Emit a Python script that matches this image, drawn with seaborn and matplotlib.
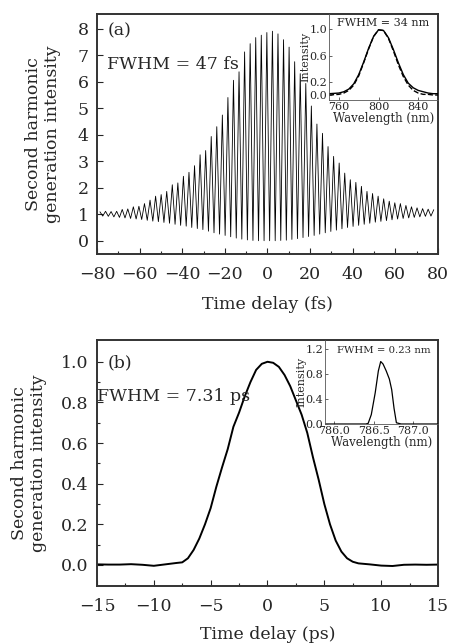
import numpy as np
import pandas as pd
import matplotlib
matplotlib.use("Agg")
import matplotlib.pyplot as plt
import seaborn as sns

# ---------------- data ----------------
# (a) interferometric autocorrelation: fringe maxima and minima, left -> right
FRINGE_START = -78.6   # fs, first fringe maximum
FRINGE_PERIOD = 2.61   # fs
peak_values = [1.09, 1.11, 1.10, 1.11, 1.18, 1.20, 1.28, 1.30, 1.40, 1.53,
               1.68, 1.74, 1.86, 2.11, 2.18, 2.43, 2.58, 2.83, 3.24, 3.40,
               3.93, 4.30, 4.74, 5.40, 6.05, 6.37, 7.12, 7.43, 7.66, 7.75,
               7.85,
               7.90, 7.80, 7.58, 7.30, 6.75, 6.30, 5.93, 5.08, 4.40, 4.05,
               3.55, 3.18, 2.93, 2.55, 2.30, 2.20, 2.05, 1.86, 1.78, 1.68,
               1.58, 1.49, 1.43, 1.40, 1.33, 1.28, 1.24, 1.21, 1.19, 1.17]
trough_values = [0.93, 0.92, 0.90, 0.88, 0.86, 0.84, 0.82, 0.80, 0.77, 0.74,
                 0.72, 0.69, 0.66, 0.62, 0.58, 0.55, 0.50, 0.46, 0.42, 0.36,
                 0.30, 0.25, 0.20, 0.15, 0.10, 0.06, 0.03, 0.01, 0.00, 0.00,
                 0.00, 0.00, 0.01, 0.02, 0.05, 0.08, 0.12, 0.16, 0.20, 0.25,
                 0.30, 0.35, 0.40, 0.45, 0.50, 0.54, 0.58, 0.62, 0.66, 0.70,
                 0.73, 0.76, 0.79, 0.82, 0.84, 0.86, 0.88, 0.90, 0.92, 0.93]

# (a) inset: spectrum (solid = measured, dashed = fit)
wl_a = [750, 760, 765, 770, 775, 780, 785, 790, 795, 800, 805, 810, 815,
        820, 825, 830, 835, 840, 845, 850, 855, 860]
spec_a = [0.02, 0.03, 0.05, 0.09, 0.17, 0.31, 0.50, 0.71, 0.89, 0.99, 0.98,
          0.87, 0.69, 0.49, 0.31, 0.18, 0.11, 0.07, 0.05, 0.03, 0.02, 0.02]
spec_a_fit = [0.00, 0.01, 0.03, 0.07, 0.15, 0.29, 0.49, 0.70, 0.89, 0.99,
              0.98, 0.86, 0.67, 0.46, 0.28, 0.15, 0.07, 0.03, 0.01, 0.01,
              0.00, 0.00]

# (b) intensity autocorrelation
delay_b = [-15, -14, -13, -12, -11, -10, -9, -8, -7.5, -7, -6.5, -6, -5.5,
           -5, -4.5, -4, -3.5, -3, -2.5, -2, -1.5, -1, -0.5, 0, 0.5, 1, 1.5,
           2, 2.5, 3, 3.5, 4, 4.5, 5, 5.5, 6, 6.5, 7, 7.5, 8, 9, 10, 11, 12,
           13, 14, 15]
sig_b = [0.003, 0.002, 0.002, 0.004, 0.001, -0.004, 0.003, 0.010, 0.013,
         0.033, 0.074, 0.13, 0.20, 0.28, 0.385, 0.48, 0.57, 0.68, 0.75, 0.83,
         0.90, 0.96, 0.99, 1.00, 0.995, 0.975, 0.935, 0.88, 0.81, 0.74, 0.65,
         0.53, 0.42, 0.30, 0.20, 0.12, 0.066, 0.033, 0.016, 0.008, 0.003,
         -0.003, -0.005, 0.001, 0.002, 0.001, 0.002]

# (b) inset: narrow spectrum
wl_b = [785.88, 786.0, 786.2, 786.4, 786.43, 786.47, 786.52, 786.56, 786.59,
        786.62, 786.66, 786.70, 786.73, 786.76, 786.79, 786.85, 787.0, 787.2,
        787.32]
spec_b = [0.0, 0.0, 0.0, 0.0, 0.01, 0.15, 0.50, 0.85, 1.00, 0.96, 0.85,
          0.72, 0.55, 0.25, 0.02, 0.0, 0.0, 0.0, 0.0]

# build the fringe trace from the maxima / minima
t_a, y_a = [], []
for k, p in enumerate(peak_values):
    t = FRINGE_START + k * FRINGE_PERIOD
    t_a.append(t)
    y_a.append(p)
    if k < len(trough_values):
        t_a.append(t + FRINGE_PERIOD / 2)
        y_a.append(trough_values[k])
df_a = pd.DataFrame({"delay": t_a, "intensity": y_a})
df_a_in = pd.DataFrame({"wl": wl_a, "meas": spec_a, "fit": spec_a_fit})
df_b = pd.DataFrame({"delay": delay_b, "intensity": sig_b})
df_b_in = pd.DataFrame({"wl": wl_b, "intensity": spec_b})

# ---------------- style ----------------
sns.set_style("ticks")
plt.rcParams["font.family"] = ["DejaVu Serif"]
plt.rcParams["axes.linewidth"] = 1.4
plt.rcParams["xtick.direction"] = "in"
plt.rcParams["ytick.direction"] = "in"

fig = plt.figure(figsize=(4.49, 6.44), dpi=100)


def style_main(ax):
    ax.tick_params(which="major", length=4, width=0.8, labelsize=12.5)
    ax.tick_params(axis="x", which="major", pad=9)
    ax.tick_params(axis="y", which="major", pad=6)
    ax.tick_params(which="minor", length=2, width=0.8)
    ax.tick_params(top=False, right=False)
    for s in ax.spines.values():
        s.set_color("#333333")


def style_inset(ax):
    ax.set_facecolor("none")
    for s in ("top", "right"):
        ax.spines[s].set_visible(False)
    for s in ("left", "bottom"):
        ax.spines[s].set_linewidth(0.6)
        ax.spines[s].set_color("#555555")
    ax.tick_params(which="major", length=2, width=0.5, labelsize=8, pad=1.5)


# ---------------- (a) ----------------
ax1 = fig.add_axes([0.216, 0.6056, 0.7595, 0.3727])
sns.lineplot(data=df_a, x="delay", y="intensity", ax=ax1, color="black",
             linewidth=0.6, estimator=None, sort=False)
ax1.set_xlim(-80, 80)
ax1.set_ylim(-0.5, 8.55)
ax1.set_xticks(np.arange(-80, 81, 20))
ax1.set_xticks(np.arange(-70, 80, 10), minor=True)
ax1.set_yticks(range(0, 9))
ax1.set_xticklabels(["\u221280", "\u221260", "\u221240", "\u221220", "0",
                     "20", "40", "60", "80"])
ax1.set_xlabel("Time delay (fs)", fontsize=12.5, labelpad=9)
ax1.set_ylabel("Second harmonic\ngeneration intensity", fontsize=12.5,
               linespacing=1.15, labelpad=12)
style_main(ax1)
ax1.text(0.03, 0.93, "(a)", transform=ax1.transAxes, fontsize=12.5, va="center")
ax1.text(0.03, 0.79, "FWHM = 47 fs", transform=ax1.transAxes, fontsize=12.5,
         va="center")

ax1i = fig.add_axes([0.7327, 0.8447, 0.2428, 0.1335])
sns.lineplot(data=df_a_in, x="wl", y="meas", ax=ax1i, color="black",
             linewidth=1.0, estimator=None)
sns.lineplot(data=df_a_in, x="wl", y="fit", ax=ax1i, color="black",
             linewidth=1.0, linestyle="--", estimator=None)
ax1i.set_xlim(750, 860)
ax1i.set_ylim(-0.076, 1.23)
ax1i.set_xticks([760, 800, 840])
ax1i.set_yticks([0.0, 0.2, 0.6, 1.0])
ax1i.set_yticklabels(["0.0", "0.2", "0.6", "1.0"])
ax1i.set_xlabel("Wavelength (nm)", fontsize=8.5, labelpad=0)
ax1i.set_ylabel("Intensity", fontsize=8, labelpad=-1)
style_inset(ax1i)
ax1i.text(0.5, 0.9, "FWHM = 34 nm", transform=ax1i.transAxes, fontsize=8,
          ha="center", va="center")

# ---------------- (b) ----------------
ax2 = fig.add_axes([0.216, 0.0905, 0.7595, 0.3815])
sns.lineplot(data=df_b, x="delay", y="intensity", ax=ax2, color="black",
             linewidth=1.4, estimator=None)
ax2.set_xlim(-15, 15)
ax2.set_ylim(-0.102, 1.107)
ax2.set_xticks(np.arange(-15, 16, 5))
ax2.set_xticks(np.arange(-12.5, 15, 2.5), minor=True)
ax2.set_xticklabels(["\u221215", "\u221210", "\u22125", "0", "5", "10", "15"])
ax2.set_yticks(np.arange(0, 1.01, 0.2))
ax2.set_yticks(np.arange(0.1, 1.1, 0.2), minor=True)
ax2.set_xlabel("Time delay (ps)", fontsize=12.5, labelpad=8)
ax2.set_ylabel("Second harmonic\ngeneration intensity", fontsize=12.5,
               linespacing=1.15, labelpad=10)
style_main(ax2)
ax2.text(0.03, 0.905, "(b)", transform=ax2.transAxes, fontsize=12.5,
         va="center")
ax2.text(0.0, 0.77, "FWHM = 7.31 ps", transform=ax2.transAxes, fontsize=12.5,
         va="center")

ax2i = fig.add_axes([0.7238, 0.3416, 0.2517, 0.1304])
sns.lineplot(data=df_b_in, x="wl", y="intensity", ax=ax2i, color="black",
             linewidth=0.9, estimator=None)
ax2i.set_xlim(785.88, 787.32)
ax2i.set_ylim(0, 1.344)
ax2i.set_xticks([786.0, 786.5, 787.0])
ax2i.set_yticks([0.0, 0.4, 0.8, 1.2])
ax2i.set_xlabel("Wavelength (nm)", fontsize=8.5, labelpad=0)
ax2i.set_ylabel("Intensity", fontsize=8, labelpad=-1)
style_inset(ax2i)
ax2i.text(0.52, 0.88, "FWHM = 0.23 nm", transform=ax2i.transAxes, fontsize=7.3,
          ha="center", va="center")

fig.savefig("out.png", dpi=100)
